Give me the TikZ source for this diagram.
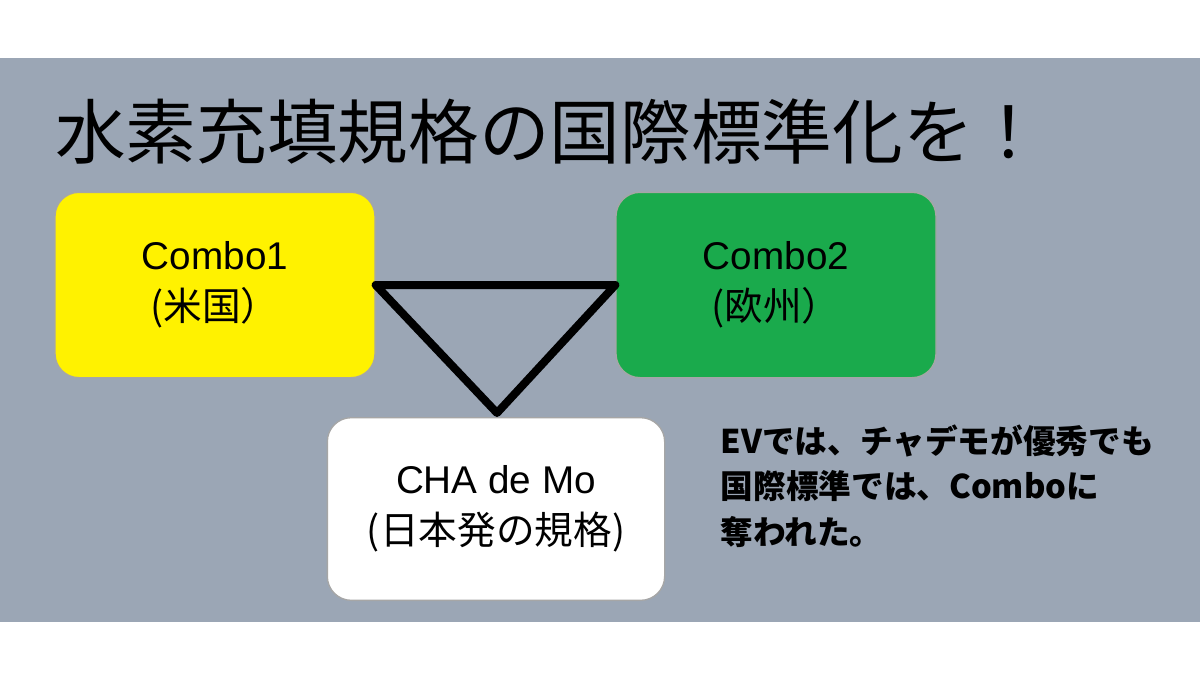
\documentclass[tikz,border=0pt]{standalone}
\usepackage{fontspec}
\setmainfont{Noto Sans CJK JP}
\newfontfamily\lat{Liberation Sans}
\begin{document}
\begin{tikzpicture}[x=0.75pt,y=-0.75pt,
 box/.style={draw=gray!70,line width=1pt,rounded corners=18pt,minimum width=240pt,minimum height=139pt,align=center,font=\fontsize{29}{38}\selectfont},
 tri/.style={line width=6pt,line join=round}]
\useasboundingbox (0,0) rectangle (1200,675);
\fill[fill={rgb,255:red,155;green,166;blue,181}] (0,58) rectangle (1200,622);
\node[anchor=west,font=\fontsize{53}{60}\selectfont,inner sep=0pt] (t) at (55,132) {水素充填規格の国際標準化を！};
\node[box,fill=yellow] (a) at (215,285) {{\lat Combo1}\\(米国）};
\node[box,fill={rgb,255:red,26;green,170;blue,76}] (b) at (776,285) {{\lat Combo2}\\(欧州）};
\node[box,fill=white,minimum width=253pt,minimum height=137pt] (c) at (496,509) {{\lat CHA de Mo}\\(日本発の規格)};
\coordinate (p) at (497,413);
\draw[tri] (a.east) -- (b.west) -- (p) -- cycle;
\node[anchor=north west,align=left,font=\bfseries\fontsize{24.5}{34}\selectfont] (n) at (716,420) {EVでは、チャデモが優秀でも\\国際標準では、\textit{Combo}に\\奪われた。};
\end{tikzpicture}
\end{document}
